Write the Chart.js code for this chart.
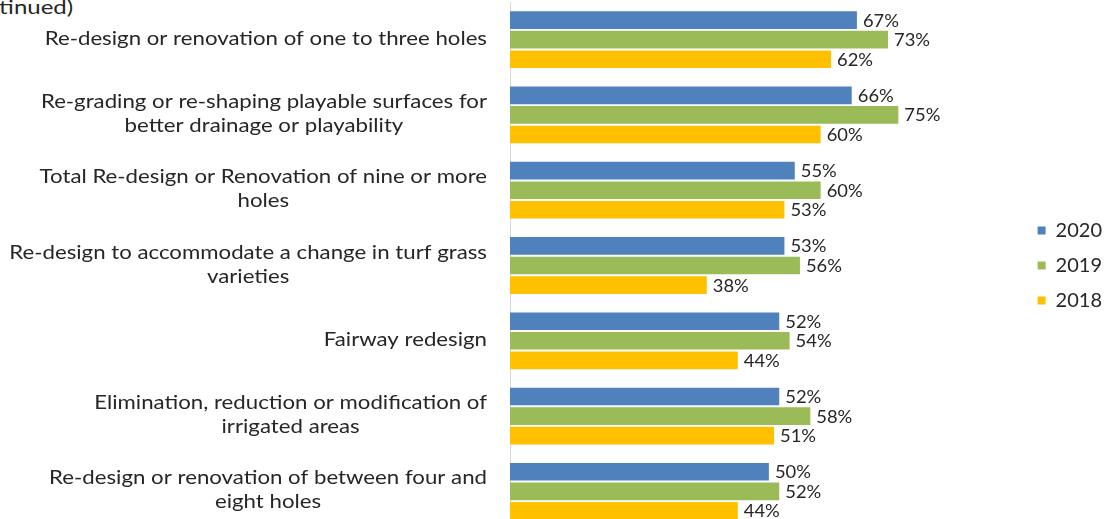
<!DOCTYPE html>
<html>
<head>
<meta charset="utf-8">
<script src="https://cdn.jsdelivr.net/npm/chart.js@4"></script>
<style>
  body { margin: 0; background: #fff; overflow: hidden; width: 1108px; height: 519px; position: relative; }
  #note { position: absolute; right: 1035px; top: -6px; font: 20px Lato, sans-serif; color: #262626; white-space: nowrap;
          transform: scaleX(1.2); transform-origin: right top; }
  canvas { position: absolute; left: 0; top: 0; }
</style>
</head>
<body>
<div id="note">(continued)</div>
<canvas id="chart" width="1108" height="532"></canvas>
<script>
// categories as they appear top to bottom, multi-line labels as arrays
const categories = [
    ['Re-design or renovation of one to three holes'],
    ['Re-grading or re-shaping playable surfaces for', 'better drainage or playability'],
    ['Total Re-design or Renovation of nine or more', 'holes'],
    ['Re-design to accommodate a change in turf grass', 'varieties'],
    ['Fairway redesign'],
    ['Elimination, reduction or modification of', 'irrigated areas'],
    ['Re-design or renovation of between four and', 'eight holes']
];
const values2020 = [67, 66, 55, 53, 52, 52, 50];
const values2019 = [73, 75, 60, 56, 54, 58, 52];
const values2018 = [62, 60, 53, 38, 44, 51, 44];
const seriesNames = ['2020', '2019', '2018'];

const textColor = '#262626';
// the source picture is a little stretched sideways
const stretch = 1.17;

// value labels at the end of each bar
const valueLabels = {
    id: 'valueLabels',
    afterDatasetsDraw(chart) {
        const ctx = chart.ctx;
        ctx.save();
        ctx.font = '17px Lato, sans-serif';
        ctx.fillStyle = textColor;
        ctx.textAlign = 'left';
        ctx.textBaseline = 'middle';
        chart.data.datasets.forEach((ds, i) => {
            chart.getDatasetMeta(i).data.forEach((bar, j) => {
                ctx.save();
                ctx.translate(bar.x + 6, bar.y + 1);
                ctx.scale(1.08, 1);
                ctx.fillText(ds.data[j] + '%', 0, 0);
                ctx.restore();
            });
        });
        ctx.restore();
    }
};

// category labels: block right-aligned to the axis, lines centred within the block
const categoryLabels = {
    id: 'categoryLabels',
    afterDraw(chart) {
        const ctx = chart.ctx;
        const yScale = chart.scales.y;
        const rightEdge = yScale.right - 23;
        const lineH = 24;
        ctx.save();
        ctx.font = '19px Lato, sans-serif';
        ctx.fillStyle = textColor;
        ctx.textAlign = 'center';
        ctx.textBaseline = 'middle';
        categories.forEach((lines, i) => {
            const w = Math.max(...lines.map(l => ctx.measureText(l).width)) * stretch;
            const cx = rightEdge - w / 2;
            const cy = yScale.getPixelForValue(i) - 1;
            const top = cy - (lines.length - 1) * lineH / 2;
            lines.forEach((l, k) => {
                ctx.save();
                ctx.translate(cx, top + k * lineH);
                ctx.scale(stretch, 1);
                ctx.fillText(l, 0, 0);
                ctx.restore();
            });
        });
        ctx.restore();
    }
};

new Chart(document.getElementById('chart'), {
    type: 'bar',
    data: {
        labels: categories,
        datasets: [
            { label: seriesNames[0], data: values2020, backgroundColor: '#4F81BD' },
            { label: seriesNames[1], data: values2019, backgroundColor: '#9BBB59' },
            { label: seriesNames[2], data: values2018, backgroundColor: '#FFC000' }
        ]
    },
    options: {
        indexAxis: 'y',
        responsive: false,
        animation: false,
        categoryPercentage: 0.78,
        barPercentage: 0.9,
        layout: { padding: { top: 2, bottom: 3, left: 0, right: -4 } },
        scales: {
            x: {
                display: false,
                min: 0,
                max: 99
            },
            y: {
                grid: { display: false },
                border: { display: true, color: '#d9d9d9', width: 1 },
                ticks: { display: false },
                afterFit(scale) { scale.width = 510; }
            }
        },
        plugins: {
            legend: {
                position: 'right',
                labels: {
                    boxWidth: 8,
                    boxHeight: 8,
                    padding: 15,
                    color: textColor,
                    font: { family: 'Lato, sans-serif', size: 20 }
                }
            },
            tooltip: { enabled: false }
        }
    },
    plugins: [valueLabels, categoryLabels]
});
</script>
</body>
</html>
